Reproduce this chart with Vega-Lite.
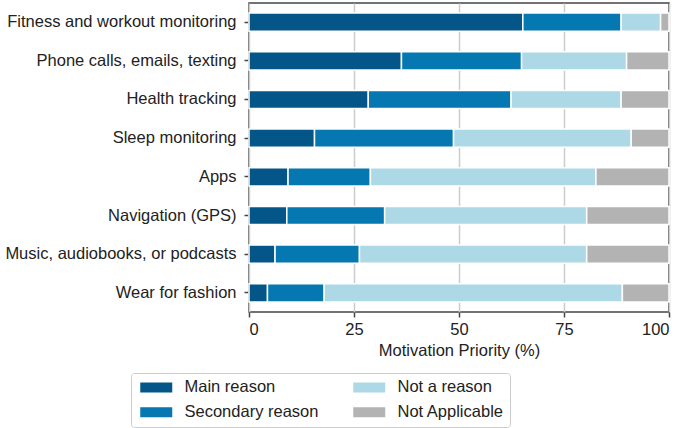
{
  "$schema": "https://vega.github.io/schema/vega-lite/v6.json",
  "width": 420,
  "height": 309,
  "autosize": {"type": "none"},
  "padding": {"left": 249, "top": 3, "right": 16, "bottom": 116},
  "background": "white",
  "config": {
    "font": "Liberation Sans",
    "view": {"stroke": "#444444", "strokeWidth": 1.5},
    "axis": {"labelFont": "Liberation Sans", "titleFont": "Liberation Sans", "labelFontSize": 16.5, "titleFontSize": 16.5, "labelColor": "#222222", "titleColor": "#222222", "titleFontWeight": "normal", "domainColor": "#444444", "tickColor": "#444444", "domainWidth": 1.5, "tickWidth": 1.5}
  },
  "data": {
    "values": [
      {"activity": "Fitness and workout monitoring\u00a0", "reason": "Main reason", "pct": 65.2},
      {"activity": "Fitness and workout monitoring\u00a0", "reason": "Secondary reason", "pct": 23.4},
      {"activity": "Fitness and workout monitoring\u00a0", "reason": "Not a reason", "pct": 9.4},
      {"activity": "Fitness and workout monitoring\u00a0", "reason": "Not Applicable", "pct": 2.0},
      {"activity": "Phone calls, emails, texting", "reason": "Main reason", "pct": 36.3},
      {"activity": "Phone calls, emails, texting", "reason": "Secondary reason", "pct": 28.6},
      {"activity": "Phone calls, emails, texting", "reason": "Not a reason", "pct": 25.0},
      {"activity": "Phone calls, emails, texting", "reason": "Not Applicable", "pct": 10.1},
      {"activity": "Health tracking\u00a0", "reason": "Main reason", "pct": 28.4},
      {"activity": "Health tracking\u00a0", "reason": "Secondary reason", "pct": 34.0},
      {"activity": "Health tracking\u00a0", "reason": "Not a reason", "pct": 26.2},
      {"activity": "Health tracking\u00a0", "reason": "Not Applicable", "pct": 11.4},
      {"activity": "Sleep monitoring\u00a0", "reason": "Main reason", "pct": 15.6},
      {"activity": "Sleep monitoring\u00a0", "reason": "Secondary reason", "pct": 33.1},
      {"activity": "Sleep monitoring\u00a0", "reason": "Not a reason", "pct": 42.3},
      {"activity": "Sleep monitoring\u00a0", "reason": "Not Applicable", "pct": 9.0},
      {"activity": "Apps\u00a0", "reason": "Main reason", "pct": 9.3},
      {"activity": "Apps\u00a0", "reason": "Secondary reason", "pct": 19.6},
      {"activity": "Apps\u00a0", "reason": "Not a reason", "pct": 53.7},
      {"activity": "Apps\u00a0", "reason": "Not Applicable", "pct": 17.4},
      {"activity": "Navigation (GPS)", "reason": "Main reason", "pct": 9.0},
      {"activity": "Navigation (GPS)", "reason": "Secondary reason", "pct": 23.3},
      {"activity": "Navigation (GPS)", "reason": "Not a reason", "pct": 48.1},
      {"activity": "Navigation (GPS)", "reason": "Not Applicable", "pct": 19.6},
      {"activity": "Music, audiobooks, or podcasts", "reason": "Main reason", "pct": 6.2},
      {"activity": "Music, audiobooks, or podcasts", "reason": "Secondary reason", "pct": 20.1},
      {"activity": "Music, audiobooks, or podcasts", "reason": "Not a reason", "pct": 54.1},
      {"activity": "Music, audiobooks, or podcasts", "reason": "Not Applicable", "pct": 19.6},
      {"activity": "Wear for fashion", "reason": "Main reason", "pct": 4.4},
      {"activity": "Wear for fashion", "reason": "Secondary reason", "pct": 13.5},
      {"activity": "Wear for fashion", "reason": "Not a reason", "pct": 71.0},
      {"activity": "Wear for fashion", "reason": "Not Applicable", "pct": 11.1}
    ]
  },
  "transform": [
    {"calculate": "indexof(['Main reason', 'Secondary reason', 'Not a reason', 'Not Applicable'], datum.reason)", "as": "stack_rank"}
  ],
  "mark": {"type": "bar", "stroke": "white", "strokeWidth": 1.5},
  "encoding": {
    "y": {
      "field": "activity",
      "type": "nominal",
      "sort": null,
      "scale": {"paddingInner": 0.53, "paddingOuter": 0.26},
      "axis": {"title": null, "grid": false, "domain": false, "tickSize": 5, "labelPadding": 8, "labelLimit": 300}
    },
    "x": {
      "field": "pct",
      "type": "quantitative",
      "stack": "zero",
      "scale": {"domain": [0, 100], "nice": false},
      "axis": {"title": "Motivation Priority (%)", "values": [0, 25, 50, 75, 100], "grid": true, "gridColor": "#cccccc", "gridWidth": 1.5, "domain": false, "tickSize": 5, "labelPadding": 4, "titlePadding": 5}
    },
    "color": {
      "field": "reason",
      "type": "nominal",
      "sort": ["Main reason", "Secondary reason", "Not a reason", "Not Applicable"],
      "scale": {
        "domain": ["Main reason", "Secondary reason", "Not a reason", "Not Applicable"],
        "range": ["#035687", "#0577b1", "#add8e6", "#b3b3b3"]
      },
      "legend": {
        "title": null,
        "orient": "none",
        "legendX": -118,
        "legendY": 370,
        "direction": "vertical",
        "columns": 2,
        "symbolType": "M-1,-1L5.4,-1L5.4,1L-1,1Z",
        "symbolSize": 100,
        "symbolStrokeWidth": 0,
        "labelFont": "Liberation Sans",
        "labelFontSize": 16.5,
        "labelColor": "#222222",
        "labelOffset": 31,
        "columnPadding": 31,
        "rowPadding": 8,
        "padding": 6,
        "strokeColor": "#cccccc",
        "cornerRadius": 3,
        "fillColor": "white",
        "labelLimit": 300
      }
    },
    "order": {"field": "stack_rank", "type": "quantitative", "sort": "ascending"}
  }
}
